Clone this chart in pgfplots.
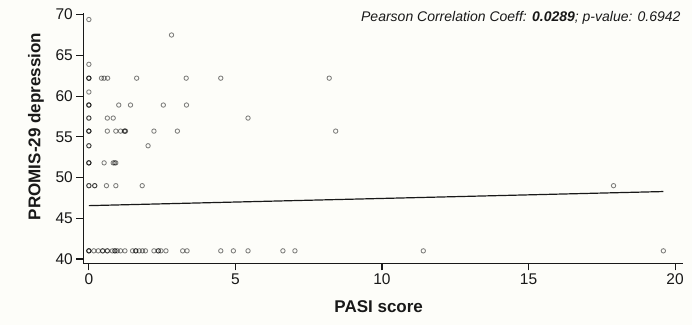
\documentclass[border=0pt]{standalone}
\usepackage{pgfplots}
\pgfplotsset{compat=1.18}
\usepackage{pgfplotstable}
\usepackage{fontspec}
\setmainfont{Liberation Sans}
\setsansfont{Liberation Sans}

\definecolor{paper}{RGB}{253,253,249}
\definecolor{ink}{RGB}{25,25,25}

% PASI score vs PROMIS-29 depression T-score
\pgfplotstableread{
x y
0 69.4
2.82 67.5
0 63.9
0 62.2
0 62.2
0 62.2
0.43 62.2
0.52 62.2
0.64 62.2
1.63 62.2
3.32 62.2
4.5 62.2
8.2 62.2
0 60.5
0 58.9
0 58.9
0 58.9
1.02 58.9
1.42 58.9
2.54 58.9
3.33 58.9
0 57.3
0 57.3
0.63 57.3
0.83 57.3
5.43 57.3
0 55.7
0 55.7
0 55.7
0.63 55.7
0.92 55.7
1.08 55.7
1.21 55.7
1.23 55.7
1.25 55.7
2.22 55.7
3.02 55.7
8.42 55.7
0 53.9
0 53.9
2.02 53.9
0 51.8
0 51.8
0 51.8
0.52 51.8
0.83 51.8
0.88 51.8
0.92 51.8
0 49.0
0 49.0
0.2 49.0
0.2 49.0
0.6 49.0
0.92 49.0
1.82 49.0
17.9 49.0
0 41.0
0 41.0
0 41.0
0.17 41.0
0.32 41.0
0.47 41.0
0.47 41.0
0.63 41.0
0.63 41.0
0.8 41.0
0.89 41.0
0.89 41.0
0.97 41.0
1.08 41.0
1.23 41.0
1.49 41.0
1.6 41.0
1.6 41.0
1.72 41.0
1.83 41.0
1.93 41.0
2.22 41.0
2.37 41.0
2.37 41.0
2.46 41.0
2.63 41.0
3.2 41.0
3.35 41.0
4.5 41.0
4.93 41.0
5.43 41.0
6.62 41.0
7.03 41.0
11.41 41.0
19.6 41.0
}\scores

\begin{document}
\begin{tikzpicture}[x=1pt,y=1pt]
\fill[paper] (-83.3,-61.7) rectangle (608.7,263.3);
\useasboundingbox (-83.3,-61.7) rectangle (608.7,263.3);
\begin{axis}[
  at={(0,0)}, anchor=south west,
  scale only axis, width=599.4pt, height=250.3pt,
  xmin=-0.19, xmax=20.26, ymin=39.47, ymax=70.2,
  axis x line*=bottom, axis y line*=left,
  axis line style={line width=1.1pt, ink},
  tick style={line width=1.1pt, ink},
  tick align=outside, major tick length=7pt,
  xtick={0,5,10,15,20}, ytick={40,45,...,70},
  ticklabel style={font=\fontsize{15.5}{18}\selectfont, text=ink},
  /pgf/number format/assume math mode=true,
  clip=false,
]
\addplot[only marks, mark=o, mark size=2.2pt,
  mark options={line width=0.85pt, draw=black, draw opacity=0.5}]
  table[x=x, y=y] {\scores};
% fitted regression line
\addplot[ink, line width=1.2pt] coordinates {(0,46.55) (19.6,48.28)};
\end{axis}
\node[rotate=90, anchor=base, font=\bfseries\fontsize{17}{20}\selectfont, text=ink]
  at (-42.8,136.8) {PROMIS-29 depression};
\node[anchor=base, font=\bfseries\fontsize{17}{20}\selectfont, text=ink]
  at (295.4,-49.4) {PASI score};
\node[anchor=base east, inner sep=0pt, font=\itshape\fontsize{14}{16}\selectfont, text=ink]
  at (597.4,241.8) {Pearson Correlation Coeff: \textbf{0.0289}; p-value: 0.6942};
\end{tikzpicture}
\end{document}
